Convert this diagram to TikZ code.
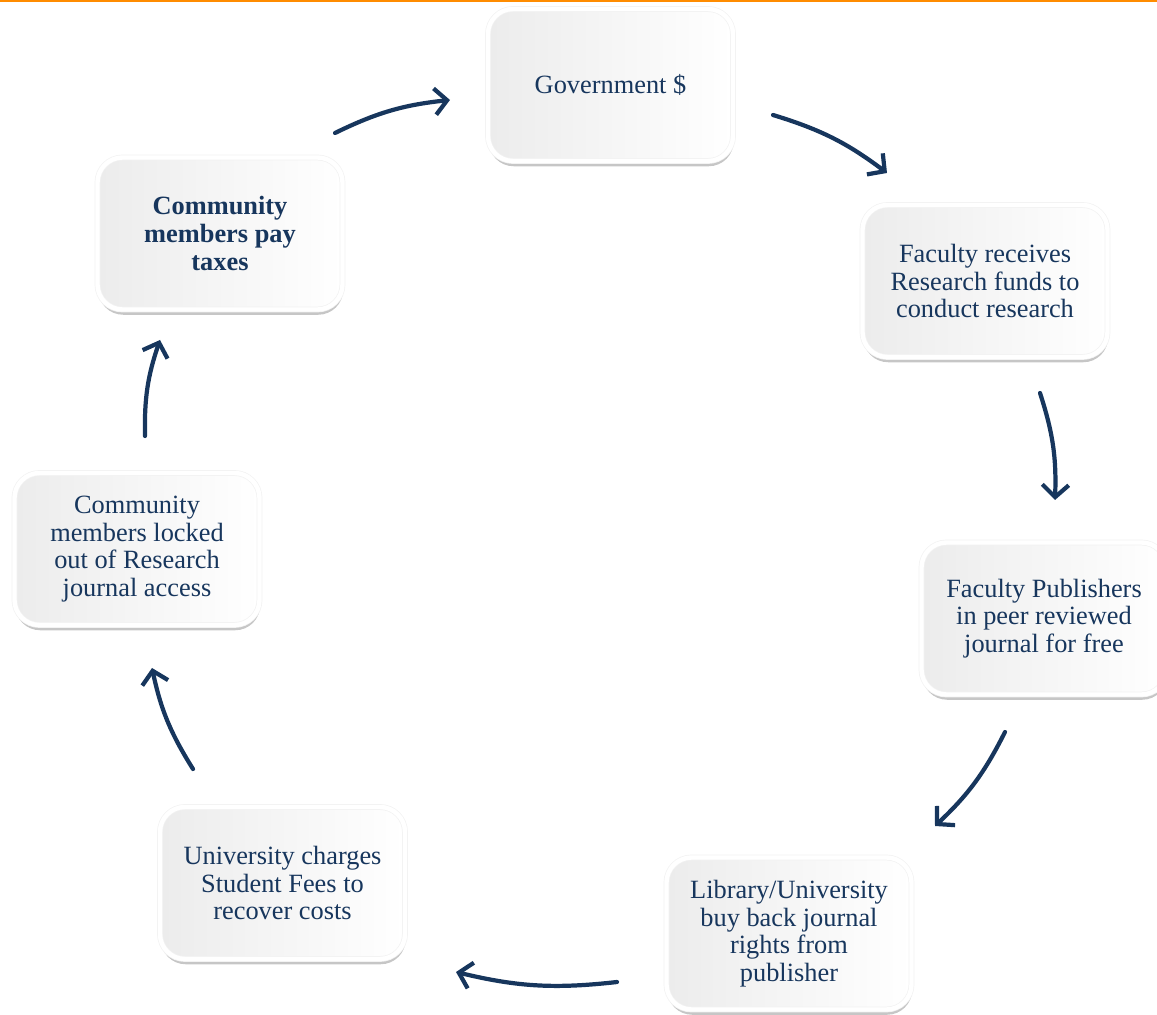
\documentclass[tikz,border=0pt]{standalone}
\usepackage{fontspec}
\setmainfont{Liberation Serif}
\usepackage{tikz}
\usetikzlibrary{arrows.meta,shadows}
\definecolor{navy}{RGB}{23,54,93}
\definecolor{topline}{RGB}{255,140,0}
\tikzset{
  stage/.style={rounded corners=0.5cm, minimum width=4.9cm, minimum height=3.04cm,
    align=center, text=navy, font=\fontsize{15}{15.7}\selectfont,
    draw=gray!10, double=white, double distance=2.5pt,
    left color=gray!15, right color=white,
    drop shadow={shadow xshift=0.4pt, shadow yshift=-3pt, opacity=0.45}},
  flow/.style={draw=navy, line width=2.4pt, line cap=round,
    -{Straight Barb[length=7pt,width=15pt]}},
}
\begin{document}
\begin{tikzpicture}
  \useasboundingbox (0,0) rectangle (23.14,20.28);
  \fill[topline] (0,20.23) rectangle (23.14,20.28);
  % the seven stages of the cycle
  \node[stage] (gov) at (12.21,18.58) {Government \$};
  \node[stage] (fac) at (19.70,14.66) {Faculty receives\\Research funds to\\conduct research};
  \node[stage] (pub) at (20.88,7.91) {Faculty Publishers\\in peer reviewed\\journal for free};
  \node[stage] (lib) at (15.78,1.61) {Library/University\\buy back journal\\rights from\\publisher};
  \node[stage] (fees) at (5.65,2.62) {University charges\\Student Fees to\\recover costs};
  \node[stage] (locked) at (2.74,9.30) {Community\\members locked\\out of Research\\journal access};
  \node[stage, font=\fontsize{15}{15.7}\selectfont\bfseries] (tax) at (4.40,15.61) {Community\\members pay\\taxes};
  % arrow ends
  \coordinate (gov-out) at (15.46,17.98);
  \coordinate (fac-in) at (17.74,16.82);
  \coordinate (fac-out) at (20.80,12.42);
  \coordinate (pub-in) at (21.10,10.28);
  \coordinate (pub-out) at (20.10,5.64);
  \coordinate (lib-in) at (18.70,3.76);
  \coordinate (lib-out) at (12.34,0.64);
  \coordinate (fees-in) at (9.12,0.84);
  \coordinate (fees-out) at (3.86,4.90);
  \coordinate (locked-in) at (3.04,6.92);
  \coordinate (locked-out) at (2.90,11.56);
  \coordinate (tax-in) at (3.20,13.48);
  \coordinate (tax-out) at (6.70,17.62);
  \coordinate (gov-in) at (9.00,18.28);
  \draw[flow] (gov-out) to[bend left=10] (fac-in);
  \draw[flow] (fac-out) to[bend left=10] (pub-in);
  \draw[flow] (pub-out) to[bend left=10] (lib-in);
  \draw[flow] (lib-out) to[bend left=10] (fees-in);
  \draw[flow] (fees-out) to[bend left=10] (locked-in);
  \draw[flow] (locked-out) to[bend left=10] (tax-in);
  \draw[flow] (tax-out) to[bend left=10] (gov-in);
\end{tikzpicture}
\end{document}
